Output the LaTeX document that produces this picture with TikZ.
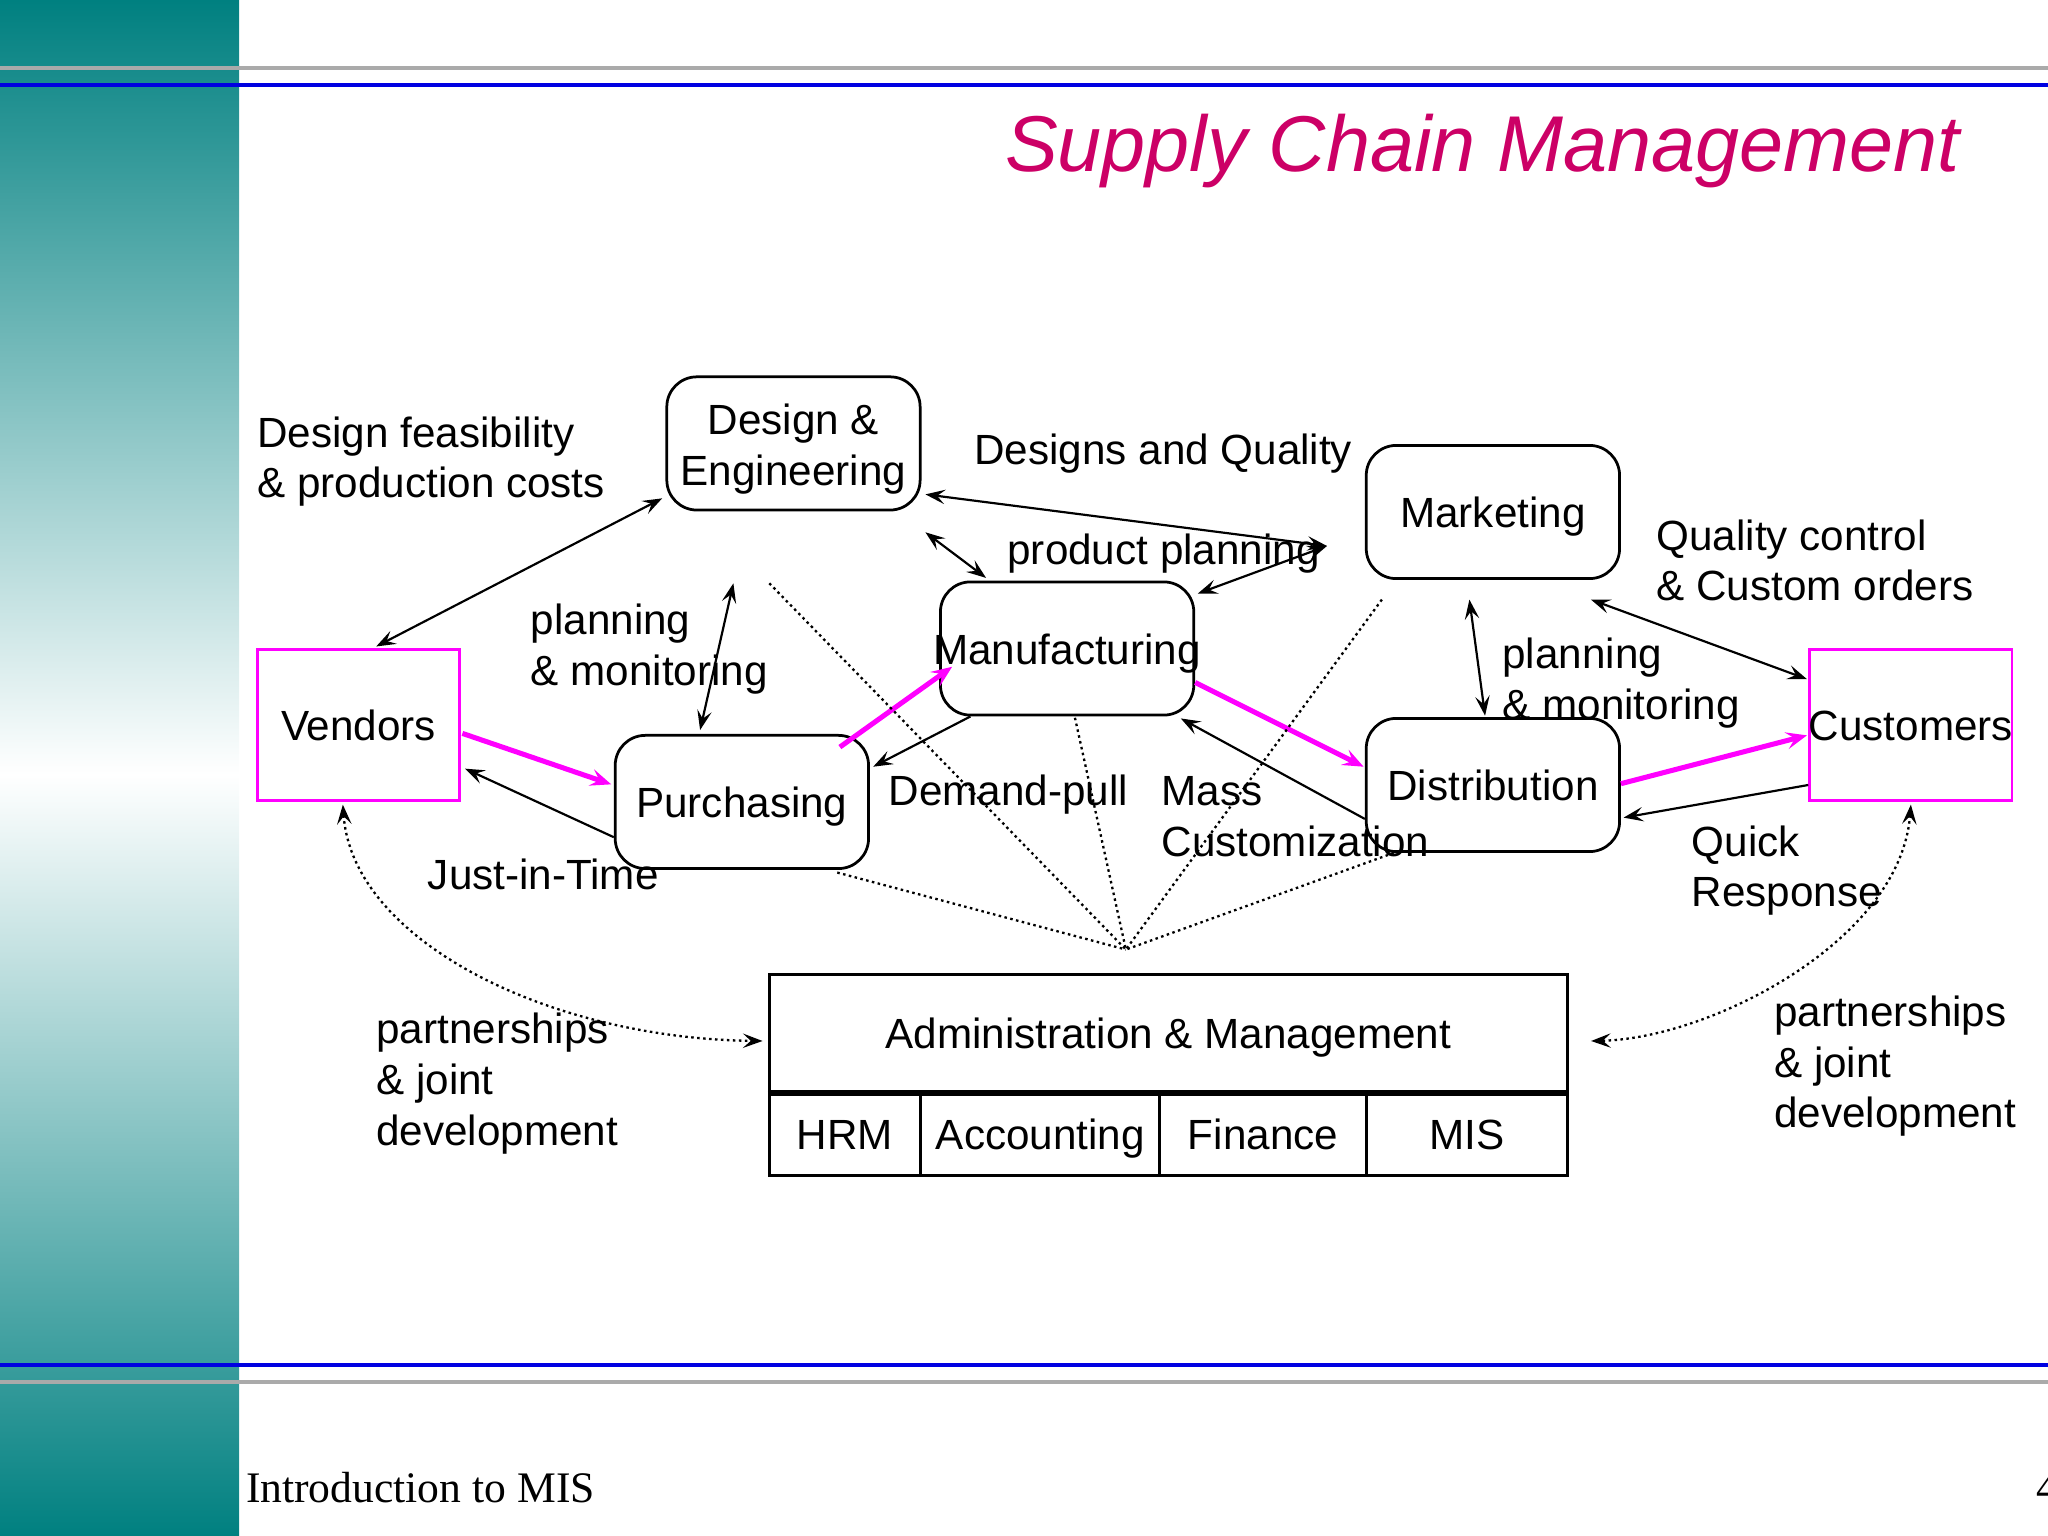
\documentclass[tikz,border=0pt]{standalone}
\usepackage{fontspec}
\setmainfont{Liberation Sans}
\newfontfamily\footfont{Liberation Serif}
\usetikzlibrary{arrows.meta,calc}
\definecolor{tealbar}{RGB}{0,128,128}
\definecolor{titlecol}{RGB}{204,0,102}
\definecolor{mag}{RGB}{255,0,255}
\definecolor{rulegray}{RGB}{170,170,170}
\definecolor{ruleblue}{RGB}{0,0,225}
\begin{document}
\begin{tikzpicture}[x=0.02cm,y=-0.02cm,
  font=\fontsize{18.4}{22.1}\selectfont,
  >={Stealth[length=0.3cm,width=0.22cm,inset=0.12cm]},
  rbox/.style={draw, line width=1.2pt, rounded corners=0.46cm, minimum width=3.88cm, minimum height=2.04cm, inner sep=0pt},
  pbox/.style={draw=mag, line width=1.2pt, minimum width=3.1cm, minimum height=2.32cm, inner sep=0pt},
  cell/.style={draw, line width=1.4pt, minimum height=1.28cm, inner sep=0pt},
  boxlab/.style={inner sep=0pt, text height=13.8pt, text depth=0pt},
  lab/.style={inner sep=0pt, anchor=base west, align=left},
  dbl/.style={line width=0.95pt, <->},
  one/.style={line width=0.95pt, ->},
  flow/.style={draw=mag, line width=2.2pt, -{Stealth[length=0.32cm,width=0.26cm,inset=0.13cm]}},
  dots/.style={line width=1pt, dash pattern=on 1.1pt off 1.5pt}
]
\clip (0,0) rectangle (1568,1176);
% side bar
\shade[top color=tealbar, bottom color=white] (0,0) rectangle (183,593);
\shade[top color=white, bottom color=tealbar] (0,593) rectangle (183,1176);
% rules
\draw[rulegray, line width=1.7pt] (0,52) -- (1568,52);
\draw[ruleblue, line width=1.7pt] (0,65) -- (1568,65);
\draw[ruleblue, line width=1.7pt] (0,1045) -- (1568,1045);
\draw[rulegray, line width=1.7pt] (0,1058) -- (1568,1058);
% title and footer
\node[inner sep=0pt, anchor=base east, text=titlecol, font=\fontsize{34.5}{40}\selectfont\itshape] (title) at (1501,131.5) {Supply Chain Management};
\node[inner sep=0pt, anchor=base west, font=\footfont\fontsize{19}{22}\selectfont] (foot) at (188,1150) {Introduction to MIS};
\node[inner sep=0pt, anchor=base west, font=\footfont\fontsize{19}{22}\selectfont] (page) at (1559,1150) {4};
% boxes
\node[rbox] (de) at (607.5,339.5) {};
\node[inner sep=0pt, anchor=base, align=center] (detxt) at (607.5,371.8) {Design \&\\Engineering};
\node[rbox, label={[boxlab]center:Marketing}] (mkt) at (1143,392) {};
\node[rbox, label={[boxlab]center:Manufacturing}] (mfg) at (817,496.5) {};
\node[rbox, label={[boxlab]center:Purchasing}] (pur) at (568,614) {};
\node[rbox, label={[boxlab]center:Distribution}] (dis) at (1143,601) {};
\node[pbox, label={[boxlab]center:Vendors}] (ven) at (274.5,555) {};
\node[pbox, label={[boxlab]center:Customers}] (cus) at (1463,555) {};
% administration table
\node[draw, line width=1.4pt, minimum width=12.22cm, minimum height=1.8cm, inner sep=0pt, label={[boxlab]center:Administration \& Management}] (adm) at (894.5,791) {};
\node[cell, minimum width=2.32cm, label={[boxlab]center:HRM}] (hrm) at (647,868) {};
\node[cell, minimum width=3.66cm, label={[boxlab]center:Accounting}] (acc) at (796.5,868) {};
\node[cell, minimum width=3.16cm, label={[boxlab]center:Finance}] (fin) at (967,868) {};
\node[cell, minimum width=3.08cm, label={[boxlab]center:MIS}] (mis) at (1123,868) {};
\draw[line width=2.4pt] (adm.south west) -- (adm.south east);
% connectors
\draw[dbl] ($(ven.north)+(13.5,-1)$) -- ($(de.south west)+(-2.5,-10)$);
\draw[dbl] ($(pur.north)+(-32,-3)$) -- ($(de.south)+(-46,55)$);
\draw[dbl] ($(de.east)+(3,39)$) -- ($(mkt.west)+(-29,26)$);
\draw[dbl] ($(de.south east)+(3,16)$) -- ($(mfg.north west)+(36,-2)$);
\draw[dbl] ($(mfg.north east)+(2,10)$) -- ($(mkt.west)+(-29,26)$);
\draw[flow] ($(pur.north east)+(-23,10)$) -- ($(mfg.west)+(10,14)$);
\draw[flow] ($(ven.east)+(1,6.5)$) -- ($(pur.west)+(-2,-13.5)$);
\draw[one] ($(pur.west)+(0,27)$) -- ($(ven.east)+(3,33.5)$);
\draw[one] ($(mfg.south west)+(24,0)$) -- ($(pur.east)+(2.5,-27)$);
\draw[flow] ($(mfg.east)+(0,26)$) -- ($(dis.west)+(-1,-14)$);
\draw[one] ($(dis.west)+(0,26)$) -- ($(mfg.south east)+(-11,1.5)$);
\draw[dbl] ($(mkt.south)+(-18,15)$) -- ($(dis.north)+(-6,-1)$);
\draw[dbl] ($(mkt.south east)+(-23,15)$) -- ($(cus.north west)+(-1,24)$);
\draw[flow] ($(dis.east)+(0,-1)$) -- ($(cus.west)+(-1,8)$);
\draw[one] ($(cus.west)+(0,46)$) -- ($(dis.east)+(2,25)$);
% partnership curves
\draw[dots, <->] ($(ven.south)+(-12,2)$) .. controls (270,720) and (420,795) .. ($(adm.west)+(-4,6)$);
\draw[dots, <->] ($(cus.south)+(0,2)$) .. controls (1455,720) and (1310,795) .. ($(adm.east)+(17,6)$);
% fan to administration
\coordinate (fan) at (862,727);
\draw[dots] ($(de.south)+(-18.5,55)$) -- (fan);
\draw[dots] ($(mfg.south)+(6,1)$) -- (fan);
\draw[dots] ($(mkt.south)+(-85,15)$) -- (fan);
\draw[dots] ($(pur.south east)+(-25,2)$) -- (fan);
\draw[dots] ($(dis.south west)+(22,0)$) -- (fan);
% labels (base anchor = baseline of last line)
\node[lab] (l1) at (196.8,381.2) {Design feasibility\\\& production costs};
\node[lab] (l2) at (406,524.9) {planning\\\& monitoring};
\node[lab] (l3) at (745.6,355.4) {Designs and Quality};
\node[lab] (l4) at (771,432.5) {product planning};
\node[lab] (l5) at (1268,460) {Quality control\\\& Custom orders};
\node[lab] (l6) at (1150,550.7) {planning\\\& monitoring};
\node[lab] (l7) at (680,616.5) {Demand-pull};
\node[lab] (l8) at (889,655.4) {Mass\\Customization};
\node[lab] (l9) at (327.3,681.2) {Just-in-Time};
\node[lab] (l10) at (1295,694.4) {Quick\\Response};
\node[lab] (l11) at (287.8,876.7) {partnerships\\\& joint\\development};
\node[lab] (l12) at (1358,863.6) {partnerships\\\& joint\\development};
\end{tikzpicture}
\end{document}
